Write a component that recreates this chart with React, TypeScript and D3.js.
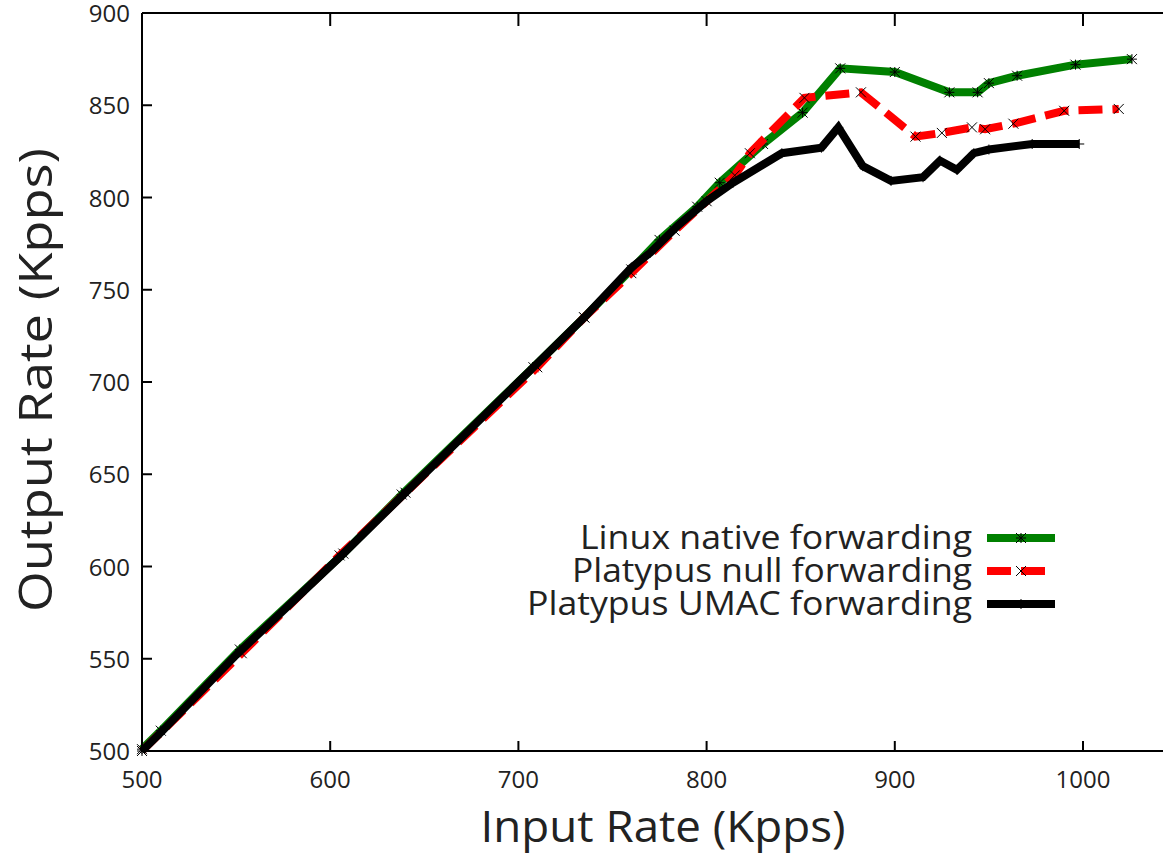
import React from "react";
import * as d3 from "d3";

const linuxX = [500, 510, 552, 607, 638, 708, 735, 760, 775, 795, 807, 830, 851, 871, 900, 929, 944, 950, 965, 996, 1026];
const linuxY = [501, 511, 555, 607, 639, 708, 735, 761, 777, 795, 808, 829, 846, 870, 868, 857, 857, 862, 866, 872, 875];

const nullX = [500, 553, 605, 640, 710, 735, 760, 783, 800, 815, 823, 852, 882, 911, 925, 941, 948, 963, 990, 1019];
const nullY = [500, 553, 606, 640, 708, 735, 759, 782, 798, 812, 824, 854, 857, 833, 835, 838, 837, 840, 847, 848];

const umacX = [500, 510, 550, 605, 640, 708, 735, 760, 770, 785, 800, 814, 840, 861, 870, 883, 898, 915, 924, 933, 942, 950, 973, 998];
const umacY = [500, 510, 552, 605, 640, 708, 735, 762, 770, 785, 798, 808, 824, 827, 838, 817, 809, 811, 820, 815, 824, 826, 829, 829];

const xTicks = [500, 600, 700, 800, 900, 1000];
const yTicks = [500, 550, 600, 650, 700, 750, 800, 850, 900];

const seriesNames = ["Linux native forwarding", "Platypus null forwarding", "Platypus UMAC forwarding"];
const seriesColors = ["#008000", "#ff0000", "#000000"];
const legendWidths = [392, 400, 445];

const W = 1163;
const H = 854;
const left = 142;
const top = 13;
const bottom = 751;

const x = d3.scaleLinear().domain([500, 1000]).range([left, 1083]);
const y = d3.scaleLinear().domain([500, 900]).range([bottom, top]);

type P = [number, number];
const zip = (a: number[], b: number[]): P[] => a.map((v, i) => [v, b[i]]);

const line = d3
  .line<P>()
  .x((d) => x(d[0]))
  .y((d) => y(d[1]));

const series = [zip(linuxX, linuxY), zip(nullX, nullY), zip(umacX, umacY)];
const dashes = [undefined, "24,10", undefined];

function Marker({ cx, cy, kind }: { cx: number; cy: number; kind: number }) {
  const s = 5;
  const st = { stroke: "#000", strokeWidth: 1 };
  if (kind === 0) {
    return (
      <g>
        <line x1={cx - s} y1={cy - s} x2={cx + s} y2={cy + s} {...st} />
        <line x1={cx - s} y1={cy + s} x2={cx + s} y2={cy - s} {...st} />
        <line x1={cx - s} y1={cy} x2={cx + s} y2={cy} {...st} />
        <line x1={cx} y1={cy - s} x2={cx} y2={cy + s} {...st} />
      </g>
    );
  }
  if (kind === 1) {
    return (
      <g>
        <line x1={cx - s} y1={cy - s} x2={cx + s} y2={cy + s} {...st} />
        <line x1={cx - s} y1={cy + s} x2={cx + s} y2={cy - s} {...st} />
      </g>
    );
  }
  return (
    <g>
      <line x1={cx - s} y1={cy} x2={cx + s} y2={cy} {...st} />
      <line x1={cx} y1={cy - s} x2={cx} y2={cy + s} {...st} />
    </g>
  );
}

export default function App() {
  const font = "'Open Sans', 'DejaVu Sans', sans-serif";
  const legendY = [538, 571, 604];
  return (
    <svg
      width={W}
      height={H}
      style={{ position: "absolute", left: 0, top: 0, display: "block", background: "#fff" }}
    >
      <rect x={0} y={0} width={W} height={H} fill="#fff" />
      {series.map((d, i) => (
        <g key={i}>
          <path
            d={line(d) || ""}
            fill="none"
            stroke={seriesColors[i]}
            strokeWidth={8}
            strokeDasharray={dashes[i]}
            strokeLinejoin="miter"
          />
          {d.map((p, j) => (
            <Marker key={j} cx={x(p[0])} cy={y(p[1])} kind={i} />
          ))}
        </g>
      ))}
      {/* frame */}
      <line x1={left} y1={top} x2={W + 10} y2={top} stroke="#000" strokeWidth={2} />
      <line x1={left} y1={bottom} x2={W + 10} y2={bottom} stroke="#000" strokeWidth={2} />
      <line x1={left} y1={top} x2={left} y2={bottom} stroke="#000" strokeWidth={2} />
      {xTicks.map((t) => (
        <g key={"x" + t}>
          <line x1={x(t)} y1={bottom} x2={x(t)} y2={bottom - 10} stroke="#000" strokeWidth={2} />
          <line x1={x(t)} y1={top} x2={x(t)} y2={top + 13} stroke="#000" strokeWidth={2} />
          <text x={x(t)} y={788} textAnchor="middle" fontFamily={font} fontSize={24} fill="#222">
            {t}
          </text>
        </g>
      ))}
      {yTicks.map((t) => (
        <g key={"y" + t}>
          <line x1={left} y1={y(t)} x2={left + 10} y2={y(t)} stroke="#000" strokeWidth={2} />
          <text x={130} y={y(t) + 9} textAnchor="end" fontFamily={font} fontSize={24} fill="#222">
            {t}
          </text>
        </g>
      ))}
      <text
        transform={`translate(52,380) rotate(-90)`}
        textAnchor="middle"
        fontFamily={font}
        fontSize={46}
        textLength={464}
        lengthAdjust="spacingAndGlyphs"
        fill="#222"
      >
        Output Rate (Kpps)
      </text>
      <text
        x={663}
        y={842}
        textAnchor="middle"
        fontFamily={font}
        fontSize={44}
        textLength={365}
        lengthAdjust="spacingAndGlyphs"
        fill="#222"
      >
        Input Rate (Kpps)
      </text>
      {seriesNames.map((n, i) => (
        <g key={n}>
          <text
            x={972}
            y={legendY[i] + 11}
            textAnchor="end"
            fontFamily={font}
            fontSize={32}
            textLength={legendWidths[i]}
            lengthAdjust="spacingAndGlyphs"
            fill="#222"
          >
            {n}
          </text>
          <line
            x1={987}
            y1={legendY[i]}
            x2={1055}
            y2={legendY[i]}
            stroke={seriesColors[i]}
            strokeWidth={8}
            strokeDasharray={dashes[i]}
          />
          <Marker cx={1021} cy={legendY[i]} kind={i} />
        </g>
      ))}
    </svg>
  );
}
